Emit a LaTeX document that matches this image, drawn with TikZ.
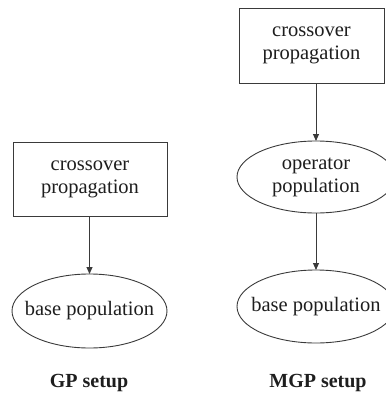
\documentclass[tikz,border=0pt]{standalone}
\usepackage{fontspec}
\setmainfont{Liberation Serif}
\usetikzlibrary{shapes.geometric,arrows.meta}
\definecolor{edge}{HTML}{3A3A3A}
\definecolor{ink}{HTML}{1E1E1E}
\begin{document}
\begin{tikzpicture}[x=1pt,y=-1pt,
  every node/.style={inner sep=0pt,outer sep=0pt},
  box/.style={draw=edge,line width=0.9pt,rectangle},
  oval/.style={draw=edge,line width=0.9pt,ellipse},
  lbl/.style={text=ink,align=center,font=\fontsize{20.5}{23}\selectfont},
  head/.style={text=ink,font=\fontsize{20}{23}\selectfont\bfseries},
  arr/.style={draw=edge,line width=0.9pt,-{Triangle[length=7pt,width=6pt]}}]
\useasboundingbox (0,0) rectangle (386,405);
\clip (0,0) rectangle (386,405);

% GP setup
\node[box,minimum width=154pt,minimum height=74pt] (gpx) at (90,179) {};
\node[lbl] (gpxt) at (gpx) {crossover\\propagation};
\node[oval,minimum width=155pt,minimum height=74pt] (gpb) at (89.5,311) {};
\node[lbl] (gpbt) at (gpb) {base population};
\draw[arr] (gpx.south -| gpb.north) -- (gpb.north);
\node[head] (gph) at (89,383) {GP setup};

% MGP setup
\node[box,minimum width=145pt,minimum height=75pt] (mgx) at (311.5,45.5) {};
\node[lbl] (mgxt) at (mgx) {crossover\\propagation};
\node[oval,minimum width=158pt,minimum height=72pt] (mgo) at (316,177) {};
\node[lbl] (mgot) at (mgo) {operator\\population};
\node[oval,minimum width=158pt,minimum height=73pt] (mgb) at (316,306.5) {};
\node[lbl] (mgbt) at (mgb) {base population};
\draw[arr] (mgx.south -| mgo.north) -- (mgo.north);
\draw[arr] (mgo.south) -- (mgb.north);
\node[head] (mgh) at (318,383) {MGP setup};
\end{tikzpicture}
\end{document}
